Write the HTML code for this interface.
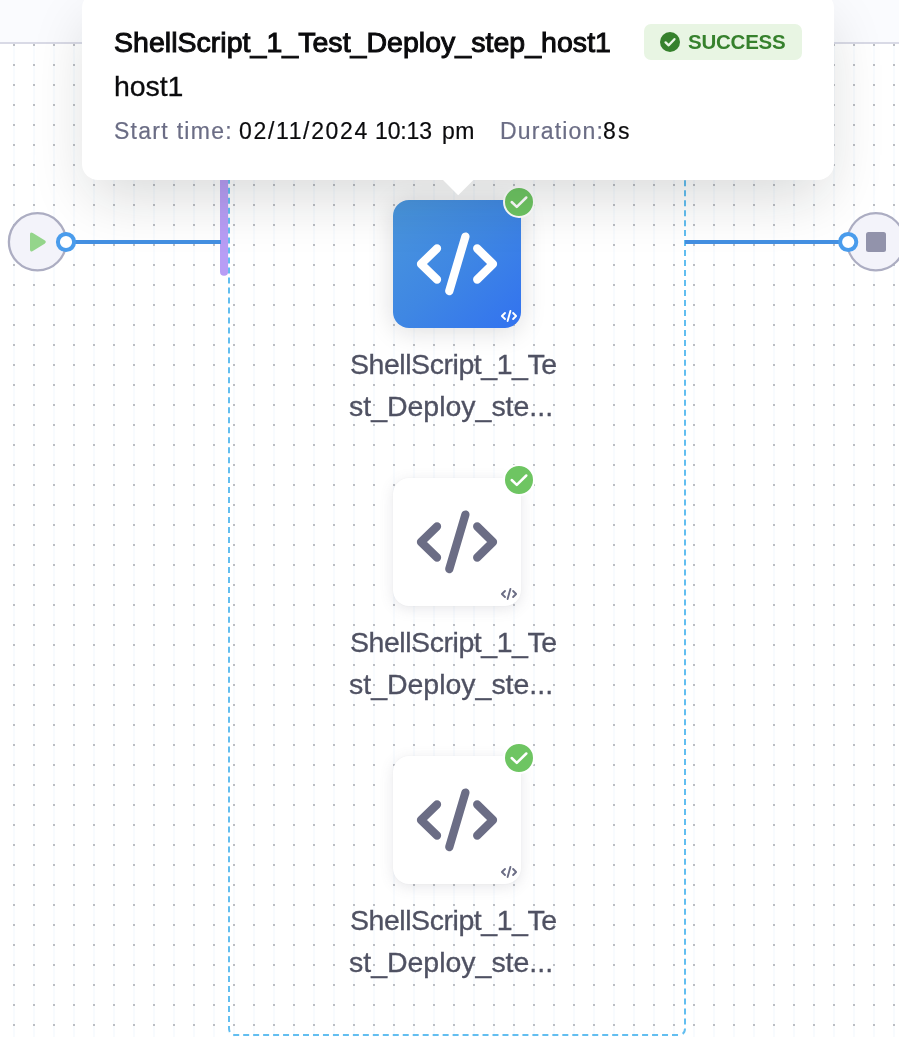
<!DOCTYPE html>
<html lang="en">
<head>
<meta charset="utf-8">
<title>Pipeline execution</title>
<style>
  html, body { margin: 0; padding: 0; }
  body {
    width: 899px; height: 1037px; position: relative; overflow: hidden;
    background: #ffffff;
    font-family: "Liberation Sans", sans-serif;
    color: #0b0b0d;
  }
  .abs { position: absolute; }
  .t1, .t2, .t3, .lbl, #badge span { will-change: transform; }
  .t1, .t2, .t3, #badge { z-index: 6; }
  #grid { left: 0; top: 0; width: 899px; height: 1037px; }
  #header {
    left: 0; top: 0; width: 899px; height: 42px;
    background: #fafbfe; border-bottom: 2px solid #d9dae6;
  }
  #wires { left: 0; top: 0; width: 899px; height: 1037px; }

  /* tooltip */
  #tip {
    left: 82px; top: -8px; width: 752px; height: 188px;
    background: #fff; border-radius: 16px; z-index: 5;
    box-shadow: 0 24px 60px -8px rgba(16,22,26,0.165);
  }
  #tiparrow { left: 442.8px; top: 179px; width: 31px; height: 18px; z-index: 5; }
  .t1 { left: 114px; top: 25px; font-size: 28.5px; line-height: 34px; white-space: nowrap;
        -webkit-text-stroke: 1px #0b0b0d; letter-spacing: 0.03px; }
  .t2 { left: 113.5px; top: 69px; font-size: 28.5px; line-height: 34px; white-space: nowrap; letter-spacing: -0.1px; -webkit-text-stroke: 0.3px; }
  .t3 { top: 116px; font-size: 23px; line-height: 30px; white-space: nowrap; letter-spacing: 1px; -webkit-text-stroke: 0.2px; }
  .muted { color: #6b6d85; }

  #badge {
    left: 644px; top: 24px; width: 158px; height: 36px; border-radius: 7px; background: #e8f5e3;
  }
  #badge span {
    position: absolute; left: 44px; top: 7px; font-size: 20.5px; line-height: 22px; font-weight: bold;
    color: #36812d; letter-spacing: -0.24px; white-space: nowrap;
  }

  /* nodes */
  .node { left: 393px; width: 128px; height: 128px; border-radius: 16px; }
  .node.sel { background: linear-gradient(135deg, #4a96dc 0%, #3f87e3 50%, #3272f0 100%);
              box-shadow: 0 3px 26px rgba(20,20,30,0.15); }
  .node.plain { background: #fff; box-shadow: 0 0 2px rgba(40,41,61,0.04), 0 3px 14px rgba(96,97,112,0.15); }
  .node svg { position: absolute; left: 0; top: 0; }
  .ok { left: 503px; width: 28px; height: 28px; border-radius: 50%; border: 2px solid #fff; background: #6ec562; }
  .ok svg { position: absolute; left: 0; top: 0; }
  .lbl { left: 350px; width: 214px; font-size: 28.5px; line-height: 42px; color: #4f5162;
         white-space: nowrap; letter-spacing: -0.45px; -webkit-text-stroke: 0.3px #4f5162; }
  .lbl .l2 { letter-spacing: -0.02px; margin-left: -1px; }
</style>
</head>
<body>

<!-- dotted grid -->
<svg id="grid" class="abs" width="899" height="1037" viewBox="0 0 899 1037">
  <defs>
    <pattern id="dots" x="13" y="44" width="20" height="20" patternUnits="userSpaceOnUse">
      <rect x="0" y="0" width="2" height="20" fill="#f8fbfe"/>
      <rect x="0" y="0" width="2" height="2" fill="#bcbec3"/>
    </pattern>
  </defs>
  <rect x="0" y="44" width="899" height="993" fill="url(#dots)"/>
</svg>

<div id="header" class="abs"></div>

<!-- wires, stage frame, terminals -->
<svg id="wires" class="abs" width="899" height="1037" viewBox="0 0 899 1037">
  <g fill="none" stroke="#62bef0" stroke-width="2">
    <path d="M229 38 V1028 Q229 1032.5 231.5 1033.6" stroke-dasharray="6 3.98"/>
    <path d="M685 40.5 V1028.4 Q685 1033 681.6 1034.4" stroke-dasharray="6 3.98"/>
    <path d="M233.2 1035 H680" stroke-dasharray="6 3.973"/>
  </g>
  <rect x="220" y="100" width="8.1" height="175.8" rx="4" ry="4" fill="#b89df5"/>
  <line x1="66" y1="242" x2="221" y2="242" stroke="#4490e2" stroke-width="4"/>
  <line x1="685" y1="242" x2="848" y2="242" stroke="#4490e2" stroke-width="4"/>
  <!-- start -->
  <circle cx="37.5" cy="241.8" r="28.6" fill="#f3f3fa" stroke="#acadc2" stroke-width="2.3"/>
  <path d="M30 234.6 L30 249.4 Q30 252.6 32.8 250.9 L44.6 243.7 Q47 242 44.6 240.3 L32.8 233.1 Q30 231.4 30 234.6 Z" fill="#94d58b"/>
  <circle cx="66" cy="242" r="8.1" fill="#fff" stroke="#4a9cec" stroke-width="4"/>
  <!-- end -->
  <circle cx="875.9" cy="241.8" r="28.6" fill="#f3f3fa" stroke="#acadc2" stroke-width="2.2"/>
  <rect x="866" y="232" width="20" height="20" rx="2.5" ry="2.5" fill="#9293ab"/>
  <circle cx="848.2" cy="242" r="8.1" fill="#fff" stroke="#4a9cec" stroke-width="4"/>
</svg>

<!-- tooltip -->
<div id="tip" class="abs"></div>
<svg id="tiparrow" class="abs" width="31" height="18" viewBox="0 0 31 18">
  <path d="M0 0 H30.4 V1 L15.2 16.2 L0 1 Z" fill="#fff"/>
</svg>
<div class="abs t1">ShellScript_1_Test_Deploy_step_host1</div>
<div class="abs t2">host1</div>
<div class="abs t3 muted" style="left:114px;letter-spacing:1.28px">Start time:</div>
<div class="abs t3" style="left:238.5px;letter-spacing:1.65px">02/11/2024</div>
<div class="abs t3" style="left:375px;letter-spacing:-0.15px">10:13</div>
<div class="abs t3" style="left:442px;letter-spacing:0.5px">pm</div>
<div class="abs t3 muted" style="left:499.5px;letter-spacing:1.2px">Duration:</div>
<div class="abs t3" style="left:603px;letter-spacing:2.2px">8s</div>
<div id="badge" class="abs">
  <svg class="abs" style="left:16px;top:8px" width="20" height="20" viewBox="0 0 20 20">
    <circle cx="10" cy="10" r="10" fill="#36812d"/>
    <path d="M5.6 10.4 L8.7 13.3 L14.4 7.2" fill="none" stroke="#eaf6e6" stroke-width="2.4" stroke-linecap="round" stroke-linejoin="round"/>
  </svg>
  <span>SUCCESS</span>
</div>

<!-- node 1 (selected) -->
<div class="abs node sel" style="top:200px">
  <svg width="128" height="128" viewBox="0 0 128 128">
    <g fill="none" stroke="#fff" stroke-width="8.3" stroke-linecap="round" stroke-linejoin="round">
      <path d="M44 48.5 L28 64 L44 79.5"/>
      <path d="M84.2 48.5 L100 64 L84.2 79.5"/>
      <path d="M72.4 36.6 L56.3 91"/>
    </g>
    <g fill="none" stroke="#fff" stroke-width="1.9" stroke-linecap="round" stroke-linejoin="round">
      <path d="M112 113 L108.9 116 L112 119"/>
      <path d="M120.1 113 L123.1 116 L120.1 119"/>
      <path d="M117.4 110.9 L114.6 121"/>
    </g>
  </svg>
</div>
<div class="abs ok" style="top:186px">
  <svg width="28" height="28" viewBox="0 0 28 28"><path d="M6.7 14 L11.8 18.9 L21.3 9.5" fill="none" stroke="#fff" stroke-width="2.5" stroke-linecap="round" stroke-linejoin="round"/></svg>
</div>
<div class="abs lbl" style="top:343px">ShellScript_1_Te<br><span class="l2">st_Deploy_ste...</span></div>

<!-- node 2 -->
<div class="abs node plain" style="top:478px">
  <svg width="128" height="128" viewBox="0 0 128 128">
    <g fill="none" stroke="#6b6d85" stroke-width="8.3" stroke-linecap="round" stroke-linejoin="round">
      <path d="M44 48.5 L28 64 L44 79.5"/>
      <path d="M84.2 48.5 L100 64 L84.2 79.5"/>
      <path d="M72.4 36.6 L56.3 91"/>
    </g>
    <g fill="none" stroke="#6b6d85" stroke-width="1.9" stroke-linecap="round" stroke-linejoin="round">
      <path d="M112 113 L108.9 116 L112 119"/>
      <path d="M120.1 113 L123.1 116 L120.1 119"/>
      <path d="M117.4 110.9 L114.6 121"/>
    </g>
  </svg>
</div>
<div class="abs ok" style="top:464px">
  <svg width="28" height="28" viewBox="0 0 28 28"><path d="M6.7 14 L11.8 18.9 L21.3 9.5" fill="none" stroke="#fff" stroke-width="2.5" stroke-linecap="round" stroke-linejoin="round"/></svg>
</div>
<div class="abs lbl" style="top:621px">ShellScript_1_Te<br><span class="l2">st_Deploy_ste...</span></div>

<!-- node 3 -->
<div class="abs node plain" style="top:756px">
  <svg width="128" height="128" viewBox="0 0 128 128">
    <g fill="none" stroke="#6b6d85" stroke-width="8.3" stroke-linecap="round" stroke-linejoin="round">
      <path d="M44 48.5 L28 64 L44 79.5"/>
      <path d="M84.2 48.5 L100 64 L84.2 79.5"/>
      <path d="M72.4 36.6 L56.3 91"/>
    </g>
    <g fill="none" stroke="#6b6d85" stroke-width="1.9" stroke-linecap="round" stroke-linejoin="round">
      <path d="M112 113 L108.9 116 L112 119"/>
      <path d="M120.1 113 L123.1 116 L120.1 119"/>
      <path d="M117.4 110.9 L114.6 121"/>
    </g>
  </svg>
</div>
<div class="abs ok" style="top:742px">
  <svg width="28" height="28" viewBox="0 0 28 28"><path d="M6.7 14 L11.8 18.9 L21.3 9.5" fill="none" stroke="#fff" stroke-width="2.5" stroke-linecap="round" stroke-linejoin="round"/></svg>
</div>
<div class="abs lbl" style="top:899px">ShellScript_1_Te<br><span class="l2">st_Deploy_ste...</span></div>

</body>
</html>
